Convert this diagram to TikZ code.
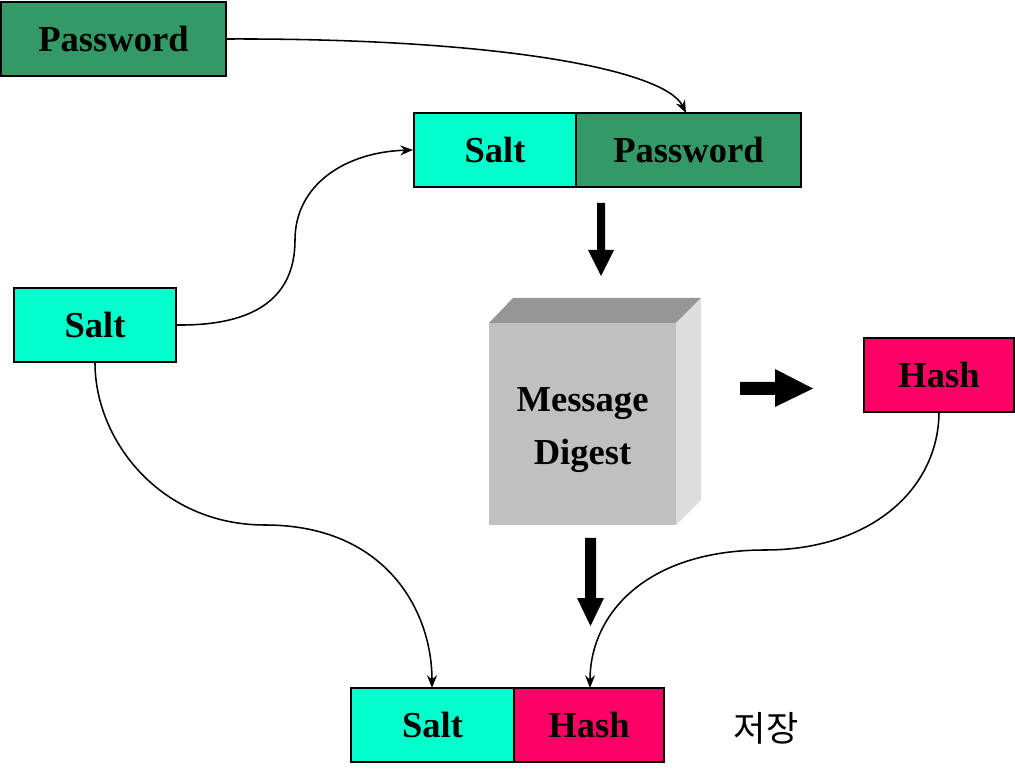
\documentclass[tikz,border=0pt]{standalone}
\usepackage{fontspec}
\setmainfont{Liberation Serif}
\newfontfamily\krfont{Noto Sans CJK KR}
\usetikzlibrary{arrows.meta}
\definecolor{pwgreen}{HTML}{339966}
\definecolor{saltcyan}{HTML}{00FFCC}
\definecolor{hashred}{HTML}{FF0066}
\definecolor{cubefront}{HTML}{C0C0C0}
\definecolor{cubetop}{HTML}{969696}
\definecolor{cubeside}{HTML}{DDDDDD}
\tikzset{
  box/.style={draw=black, line width=1.4pt, minimum height=1.85cm, inner sep=0pt,
    font=\fontsize{26}{30}\selectfont\bfseries, text=black},
  conn/.style={line width=1.1pt, -{Stealth[length=9pt,width=7pt]}},
  bigarrow/.style={fill=black, draw=none}
}
\begin{document}
\begin{tikzpicture}[x=0.025cm,y=-0.025cm]
\useasboundingbox (0,0) rectangle (1015,774);
% boxes
\node[box, fill=pwgreen, minimum width=5.62cm] (pw1) at (113.5,39) {Password};
\node[box, fill=saltcyan, minimum width=4.05cm] (salt2) at (495,150) {Salt};
\node[box, fill=pwgreen, minimum width=5.62cm] (pw2) at (688.5,150) {Password};
\node[box, fill=saltcyan, minimum width=4.05cm] (salt1) at (95,325) {Salt};
\node[box, fill=hashred, minimum width=3.75cm] (hash1) at (939,375) {Hash};
\node[box, fill=saltcyan, minimum width=4.08cm] (salt3) at (432.5,725) {Salt};
\node[box, fill=hashred, minimum width=3.75cm] (hash2) at (589,725) {Hash};
\node[font=\krfont\fontsize{25}{30}\selectfont] (store) at (766,728) {저장};
% cube
\fill[cubetop] (489,323) -- (513,298) -- (701,298) -- (676,323) -- cycle;
\fill[cubeside] (676,323) -- (701,298) -- (701,500) -- (676,525) -- cycle;
\fill[cubefront] (489,323) rectangle (676,525);
\node[font=\fontsize{26}{38}\selectfont\bfseries, align=center] (md) at (582.5,430) {Message\\Digest};
% thick arrows
\fill[bigarrow] (597,203) -- (605,203) -- (605,250) -- (614,250) -- (601,276) -- (588,250) -- (597,250) -- cycle;
\fill[bigarrow] (740,382) -- (775,382) -- (775,369) -- (813,388.5) -- (775,407) -- (775,395) -- (740,395) -- cycle;
\fill[bigarrow] (585,538) -- (596,538) -- (596,598) -- (604,598) -- (590.5,626) -- (577,598) -- (585,598) -- cycle;
% connectors
\coordinate (pwin) at (686,113);
\coordinate (saltin) at (432,688);
\coordinate (hashin) at (590,688);
\draw[conn] (pw1.east) .. controls (500,38) and (665,70) .. (pwin);
\draw[conn] (salt1.east) .. controls (265,326) and (295,290) .. (295,240) .. controls (295,185) and (345,152) .. (salt2.west);
\draw[conn] (salt1.south) .. controls (95,440) and (160,525) .. (265,525) .. controls (385,525) and (432,610) .. (saltin);
\draw[conn] (hash1.south) .. controls (938,490) and (870,550) .. (765,550) .. controls (645,550) and (590,615) .. (hashin);
\end{tikzpicture}
\end{document}
